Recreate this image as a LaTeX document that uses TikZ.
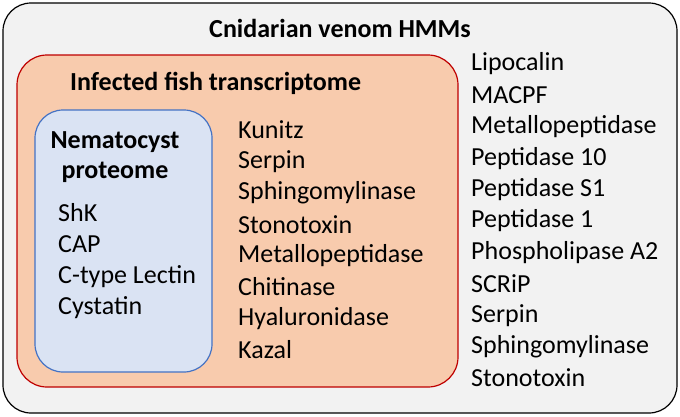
\documentclass[tikz,border=0pt]{standalone}
\usepackage{fontspec}
\setmainfont{Carlito}
\begin{document}
\begin{tikzpicture}[x=1pt,y=-1pt,
  lbl/.style={anchor=west,inner sep=0pt,font=\fontsize{26}{30}\selectfont},
  ttl/.style={inner sep=0pt,font=\fontsize{26}{30}\selectfont\bfseries}]
\useasboundingbox (0,0) rectangle (680,416);
\draw[line width=1.2pt,fill=black!5,rounded corners=28pt] (3,3) rectangle (677,413);
\draw[line width=1.2pt,draw=red!75!black,fill={rgb,255:red,248;green,203;blue,173},rounded corners=30pt] (17,55) rectangle (458,387);
\draw[line width=1.2pt,draw={rgb,255:red,68;green,114;blue,196},fill={rgb,255:red,218;green,227;blue,243},rounded corners=28pt] (35,110) rectangle (212,372);
\node[ttl] (t1) at (340,28) {Cnidarian venom HMMs};
\node[ttl,anchor=west] (t2) at (70,83) {Infected fish transcriptome};
\node[ttl] (t3) at (115,142) {Nematocyst};
\node[ttl] (t4) at (115,172) {proteome};
\foreach \t [count=\i] in {Lipocalin,MACPF,Metallopeptidase,Peptidase 10,Peptidase S1,Peptidase 1,Phospholipase A2,SCRiP,Serpin,Sphingomylinase,Stonotoxin}
  \node[lbl] (r\i) at (471,{64+31.4*(\i-1)}) {\t};
\foreach \t [count=\i] in {Kunitz,Serpin,Sphingomylinase,Stonotoxin,Metallopeptidase,Chitinase,Hyaluronidase,Kazal}
  \node[lbl] (m\i) at (238,{130+31.4*(\i-1)}) {\t};
\foreach \t [count=\i] in {ShK,CAP,C-type Lectin,Cystatin}
  \node[lbl] (b\i) at (58,{213+31.6*(\i-1)}) {\t};
\end{tikzpicture}
\end{document}
